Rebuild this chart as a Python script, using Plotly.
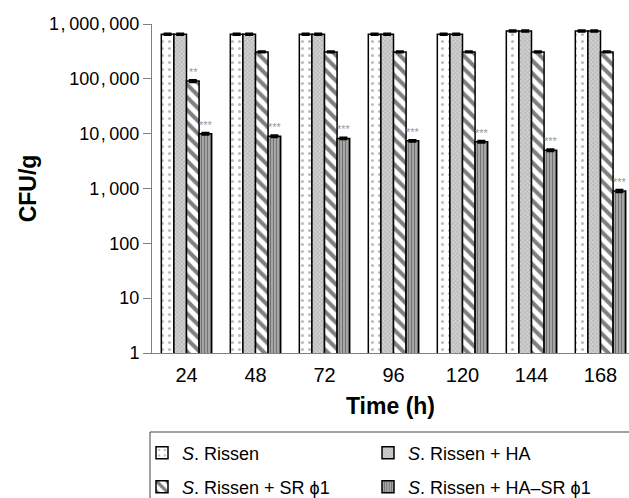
import math
import plotly.graph_objects as go

times = ["24", "48", "72", "96", "120", "144", "168"]
series_names = ["<i>S</i>. Rissen", "<i>S</i>. Rissen + HA",
                "<i>S</i>. Rissen + SR ϕ1", "<i>S</i>. Rissen + HA–SR ϕ1"]
rissen = [650000, 650000, 650000, 650000, 650000, 745000, 745000]
rissen_ha = [650000, 650000, 650000, 650000, 650000, 745000, 745000]
rissen_sr = [91000, 310000, 310000, 310000, 310000, 310000, 310000]
rissen_hasr = [10000, 9000, 8200, 7400, 7100, 5000, 900]
err_rissen = [20000, 20000, 20000, 20000, 20000, 25000, 25000]
err_ha = [20000, 20000, 20000, 20000, 20000, 25000, 25000]
err_sr = [4000, 8000, 8000, 8000, 8000, 8000, 8000]
err_hasr = [400, 400, 300, 300, 300, 200, 50]
sig_sr = ["**", "", "", "", "", "", ""]
sig_hasr = ["***"] * 7
y_tickvals = [1, 10, 100, 1000, 10000, 100000, 1000000]
y_ticktext = ["1", "10", "100", "1\u200a,\u2009000", "10\u200a,\u2009000",
              "100\u200a,\u2009000", "1\u200a,\u2009000\u200a,\u2009000"]

values = [rissen, rissen_ha, rissen_sr, rissen_hasr]
errors = [err_rissen, err_ha, err_sr, err_hasr]
patterns = [
    dict(shape=".", fgcolor="#777777", bgcolor="white", size=7, solidity=0.15),
    dict(shape="x", fgcolor="#7a7a7a", bgcolor="#d0d0d0", size=3, solidity=0.3),
    dict(shape="\\", fgcolor="black", bgcolor="white", size=9, solidity=0.45),
    dict(shape="|", fgcolor="#333333", bgcolor="#b0b0b0", size=3, solidity=0.45),
]
legend_ids = ["legend", "legend2", "legend3", "legend4"]

fig = go.Figure()
for name, v, e, p, lg in zip(series_names, values, errors, patterns, legend_ids):
    fig.add_trace(go.Bar(
        x=times, y=v, name=name, legend=lg, showlegend=True,
        marker=dict(color=p["bgcolor"], pattern=p, line=dict(color="black", width=1.5)),
        error_y=dict(type="data", array=e, color="black", thickness=2, width=4),
    ))

nb = 4
bargap = 0.27
bw = (1 - bargap) / nb
ann = []
for i in range(len(times)):
    for k, (sig, vals) in enumerate([(sig_sr, rissen_sr), (sig_hasr, rissen_hasr)]):
        if sig[i]:
            idx = 2 + k
            off = -(1 - bargap) / 2 + bw * (idx + 0.5)
            ann.append(dict(x=i + off, y=math.log10(vals[i]), xref="x", yref="y",
                            text=sig[i], showarrow=False, yanchor="bottom", xanchor="center",
                            xshift=1, yshift=1,
                            font=dict(size=11, color="#999999", family="Liberation Sans")))

W, H = 629, 498
PL, PR, PT, PB = 152, 629, 24, 353
UNIT = 69.0  # px per category

def px_x(px):
    return (px - PL) / float(PR - PL)

def px_y(py):
    return (PB - py) / float(PB - PT)

leg_common = dict(orientation="v", xanchor="left", yanchor="middle",
                  bgcolor="rgba(0,0,0,0)", borderwidth=0,
                  font=dict(size=18), itemwidth=30, visible=True)

box_line = dict(color="#444444", width=1)
fig.update_layout(
    width=W, height=H, showlegend=True,
    margin=dict(l=PL, r=W - PR, t=PT, b=H - PB, autoexpand=False),
    plot_bgcolor="white", paper_bgcolor="white",
    barmode="group", bargap=bargap, bargroupgap=0,
    font=dict(family="Liberation Sans, Arial, sans-serif", color="black", size=18),
    xaxis=dict(showline=True, linecolor="#808080", linewidth=1, ticks="",
               range=[-0.5, -0.5 + (PR - PL) / UNIT],
               tickfont=dict(size=20), automargin=False, ticklabelstandoff=4,
               title=dict(text="<b>Time (h)</b>", font=dict(size=23), standoff=12)),
    yaxis=dict(type="log", range=[0, 6], showline=True, linecolor="#808080", linewidth=1,
               ticks="outside", ticklen=8, tickcolor="#808080", showgrid=False,
               tickvals=y_tickvals, ticktext=y_ticktext, automargin=False,
               tickfont=dict(size=18),
               title=dict(text="<b>CFU/g</b>", font=dict(size=23), standoff=6)),
    legend=dict(x=px_x(142), y=px_y(453), **leg_common),
    legend2=dict(x=px_x(368), y=px_y(453), **leg_common),
    legend3=dict(x=px_x(142), y=px_y(487), **leg_common),
    legend4=dict(x=px_x(368), y=px_y(487), **leg_common),
    shapes=[
        dict(type="line", xref="paper", yref="paper",
             x0=px_x(150), x1=px_x(640), y0=px_y(432), y1=px_y(432), line=box_line),
        dict(type="line", xref="paper", yref="paper",
             x0=px_x(150), x1=px_x(150), y0=px_y(432), y1=px_y(510), line=box_line),
    ],
    annotations=ann,
)
fig.write_html("out.html", config={"displayModeBar": False},
               post_script="document.body.style.margin='0';document.body.style.overflow='hidden';")
